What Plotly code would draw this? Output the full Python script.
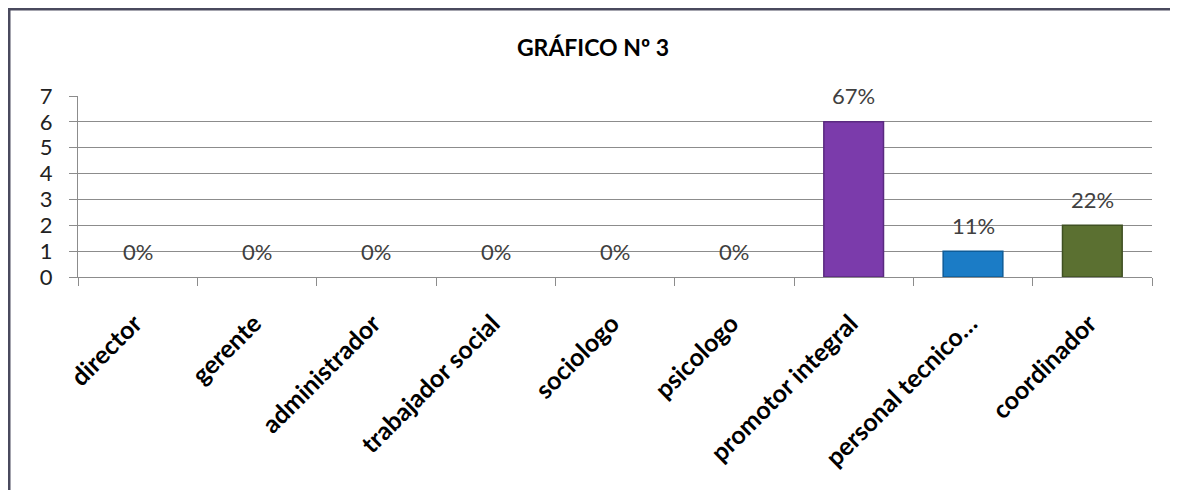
import plotly.graph_objects as go

categories = ["director", "gerente", "administrador", "trabajador social", "sociologo",
              "psicologo", "promotor integral", "personal tecnico…", "coordinador"]
values = [0, 0, 0, 0, 0, 0, 6, 1, 2]
pct_labels = ["0%", "0%", "0%", "0%", "0%", "0%", "67%", "11%", "22%"]
bar_colors = ["#4F81BD"] * 6 + ["#7B3BAB", "#1B7CC6", "#5B7031"]
edge_colors = ["#4F81BD"] * 6 + ["#5A2A80", "#0E5C98", "#3F5022"]
edge_widths = [0] * 6 + [1.5, 1.5, 1.5]
y_ticks = [0, 1, 2, 3, 4, 5, 6, 7]

FONT = "Lato, 'Open Sans', sans-serif"
W, H = 1170, 482
L, T = 70, 88
PW, PH = 1074, 181

fig = go.Figure()
fig.add_trace(go.Bar(
    x=categories, y=values,
    marker=dict(color=bar_colors, line=dict(color=edge_colors, width=edge_widths)),
    hoverinfo="skip",
))

for c, v, t in zip(categories, values, pct_labels):
    fig.add_annotation(x=c, y=v, xref="x", yref="y", text=t, showarrow=False,
                       yanchor="middle", yshift=26,
                       font=dict(family=FONT, size=22, color="#404040"))

fig.add_shape(type="rect", xref="paper", yref="paper",
              x0=(1 - L) / PW, x1=1.2, y0=-1.6, y1=(T + PH - 1) / PH,
              line=dict(color="#4a4a5e", width=3), fillcolor="rgba(0,0,0,0)", layer="above")

fig.update_layout(
    width=W, height=H,
    margin=dict(l=L, r=W - L - PW, t=T, b=H - T - PH),
    paper_bgcolor="white", plot_bgcolor="white",
    bargap=0.5, showlegend=False,
    title=dict(text="<b>GRÁFICO Nº 3</b>", x=0.5, xanchor="center", y=1 - 40 / H, yanchor="middle",
               font=dict(family=FONT, size=23, color="#000000")),
    xaxis=dict(
        type="category", tickangle=-45, tickson="boundaries", ticks="outside", ticklen=8,
        tickcolor="#8c8c8c", showline=True, linecolor="#8c8c8c", linewidth=1,
        showgrid=False, ticklabelstandoff=21, ticklabelshift=-3,
        tickfont=dict(family=FONT, size=25, color="#000000", weight="bold"),
    ),
    yaxis=dict(
        range=[0, 7], tickvals=y_ticks, ticks="outside", ticklen=8, tickcolor="#8c8c8c",
        showline=True, linecolor="#8c8c8c", linewidth=1,
        showgrid=True, gridcolor="#8c8c8c", gridwidth=1, zeroline=False,
        ticklabelstandoff=12,
        tickfont=dict(family=FONT, size=22, color="#222222"),
    ),
)

fig.write_html("out.html")
